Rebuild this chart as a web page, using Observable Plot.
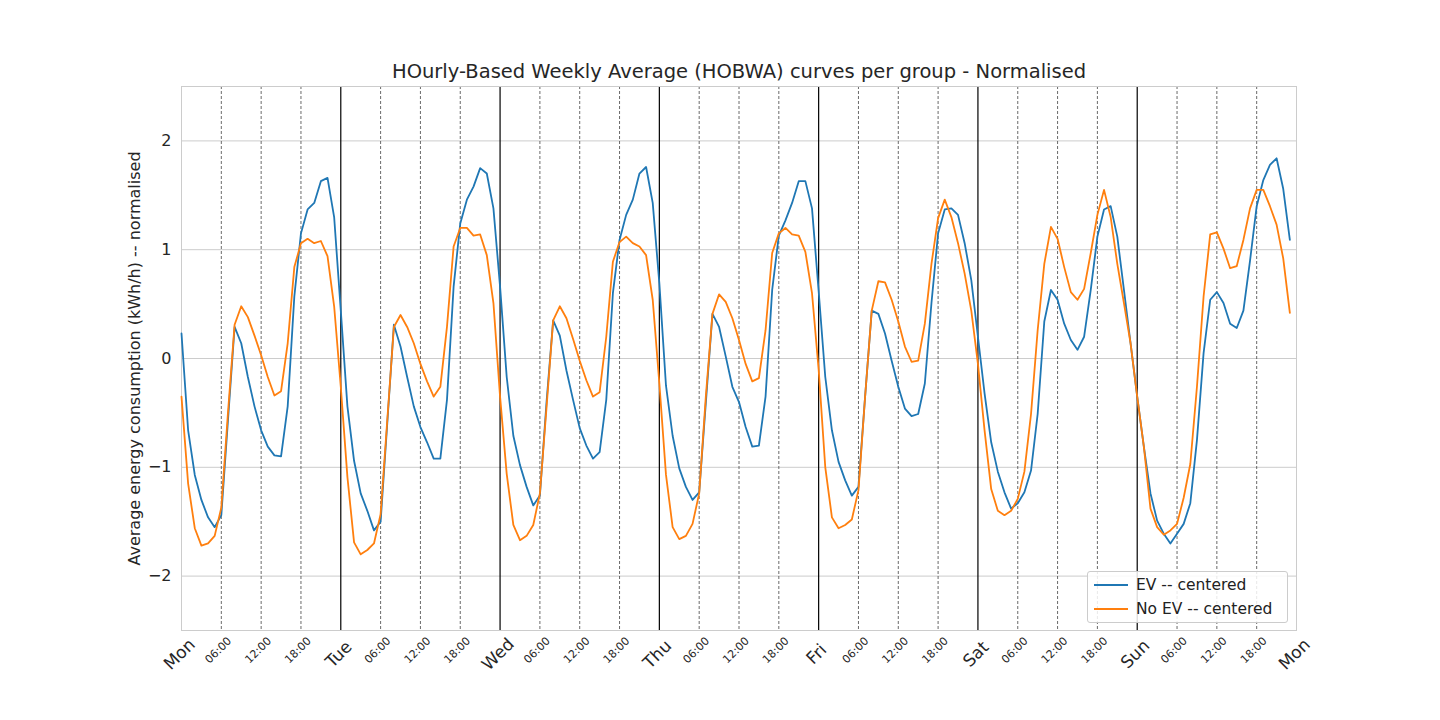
<!DOCTYPE html>
<html><head><meta charset="utf-8">
<script src="https://cdn.jsdelivr.net/npm/d3@7"></script>
<script src="https://cdn.jsdelivr.net/npm/@observablehq/plot@0.6"></script>
<style>body{margin:0;background:#fff;font-family:"DejaVu Sans",sans-serif}#c{position:relative;width:1440px;height:720px}
#lg{position:absolute;left:1087px;top:571px;width:199px;height:50px;border:1px solid #ccc;border-radius:3px;background:rgba(255,255,255,0.85);font-size:15.5px;color:#222}
#lg div{display:flex;align-items:center;height:22px;margin-top:2px}
#lg span{display:inline-block;width:34px;height:2px;margin:0 8px 0 6px}</style>
</head><body><div id="c"><div id="lg"><div><span style="background:#1f77b4"></span>EV -- centered</div><div><span style="background:#ff7f0e"></span>No EV -- centered</div></div></div>
<script>
const dayLabels=["Mon","Tue","Wed","Thu","Fri","Sat","Sun","Mon"];
const hourLabels=["06:00","12:00","18:00"];
const ev=[0.23,-0.66,-1.07,-1.30,-1.46,-1.55,-1.44,-0.57,0.29,0.14,-0.17,-0.44,-0.66,-0.81,-0.89,-0.90,-0.44,0.57,1.15,1.37,1.43,1.63,1.66,1.30,
0.44,-0.44,-0.94,-1.24,-1.40,-1.58,-1.50,-0.6,0.31,0.11,-0.17,-0.44,-0.63,-0.77,-0.92,-0.92,-0.38,0.66,1.24,1.46,1.58,1.75,1.70,1.38,
0.66,-0.17,-0.71,-0.98,-1.18,-1.35,-1.26,-0.4,0.35,0.21,-0.11,-0.38,-0.64,-0.80,-0.92,-0.86,-0.38,0.60,1.09,1.32,1.46,1.70,1.76,1.43,
0.69,-0.25,-0.71,-1.01,-1.18,-1.30,-1.23,-0.41,0.41,0.29,0.02,-0.26,-0.40,-0.63,-0.81,-0.80,-0.35,0.63,1.13,1.27,1.43,1.63,1.63,1.38,
0.62,-0.17,-0.66,-0.95,-1.12,-1.26,-1.18,-0.35,0.44,0.41,0.23,-0.02,-0.26,-0.46,-0.53,-0.51,-0.23,0.51,1.15,1.37,1.38,1.32,1.06,0.72,
0.20,-0.32,-0.77,-1.04,-1.23,-1.38,-1.33,-1.23,-1.03,-0.51,0.34,0.63,0.54,0.32,0.17,0.08,0.20,0.63,1.12,1.37,1.40,1.12,0.63,0.14,
-0.35,-0.81,-1.24,-1.49,-1.61,-1.70,-1.61,-1.52,-1.33,-0.75,0.05,0.54,0.61,0.51,0.32,0.28,0.44,0.90,1.40,1.64,1.78,1.84,1.56,1.09];
const noev=[-0.35,-1.15,-1.56,-1.72,-1.70,-1.63,-1.37,-0.5,0.31,0.48,0.38,0.21,0.03,-0.17,-0.34,-0.30,0.14,0.84,1.06,1.10,1.06,1.08,0.94,0.48,
-0.26,-1.09,-1.69,-1.80,-1.76,-1.70,-1.43,-0.57,0.29,0.40,0.29,0.14,-0.05,-0.21,-0.35,-0.26,0.29,1.03,1.20,1.20,1.13,1.14,0.95,0.51,
-0.35,-1.06,-1.53,-1.67,-1.63,-1.53,-1.24,-0.45,0.35,0.48,0.37,0.18,-0.02,-0.20,-0.35,-0.31,0.20,0.89,1.07,1.12,1.06,1.03,0.95,0.54,
-0.23,-1.07,-1.55,-1.66,-1.63,-1.52,-1.24,-0.35,0.41,0.59,0.52,0.37,0.17,-0.05,-0.21,-0.18,0.26,0.97,1.15,1.20,1.14,1.13,0.98,0.60,
-0.10,-1.00,-1.46,-1.56,-1.53,-1.48,-1.21,-0.35,0.44,0.71,0.70,0.54,0.34,0.11,-0.03,-0.02,0.32,0.87,1.29,1.46,1.30,1.06,0.78,0.44,
-0.05,-0.66,-1.20,-1.40,-1.44,-1.40,-1.29,-1.04,-0.51,0.26,0.87,1.21,1.10,0.84,0.61,0.54,0.64,0.97,1.32,1.55,1.30,0.87,0.51,0.14,
-0.35,-0.81,-1.38,-1.55,-1.62,-1.58,-1.52,-1.28,-0.97,-0.26,0.57,1.14,1.16,1.01,0.83,0.85,1.09,1.38,1.55,1.55,1.40,1.23,0.92,0.42];
const rows=[];
ev.forEach((v,i)=>rows.push({h:i,v,g:"EV -- centered"}));
noev.forEach((v,i)=>rows.push({h:i,v,g:"No EV -- centered"}));
const dayTicks=d3.range(0,169,24);
const innerDays=d3.range(24,168,24);
const hourTicks=d3.range(0,168,6).filter(h=>h%24!==0);
const chart=Plot.plot({
  width:1440,height:720,marginLeft:181,marginRight:144,marginTop:86,marginBottom:90,
  style:{fontFamily:"DejaVu Sans",color:"#262626",background:"white"},
  x:{domain:[0,168]},
  y:{domain:[-2.5,2.5]},
  color:{domain:["EV -- centered","No EV -- centered"],range:["#1f77b4","#ff7f0e"]},
  marks:[
    Plot.gridY([-2,-1,0,1,2],{stroke:"#cccccc",strokeOpacity:1,strokeWidth:1}),
    Plot.ruleX(hourTicks,{stroke:"#444",strokeWidth:0.8,strokeDasharray:"3,2"}),
    Plot.ruleX(innerDays,{stroke:"#000",strokeWidth:1.2}),
    Plot.frame({stroke:"#cccccc"}),
    Plot.lineY(rows,{x:"h",y:"v",z:"g",stroke:"g",strokeWidth:1.8}),
    Plot.axisY({ticks:[-2,-1,0,1,2],tickSize:0,tickPadding:10,fontSize:16,tickFormat:d=>d<0?"\u2212"+(-d):String(d),label:null}),
    Plot.text(["Average energy consumption (kWh/h) -- normalised"],{frameAnchor:"left",dx:-47,rotate:-90,fontSize:16,textAnchor:"middle"}),
    Plot.axisX({ticks:dayTicks,tickSize:0,tickRotate:-45,textAnchor:"middle",dy:12,dx:-2,fontSize:17,tickFormat:d=>dayLabels[d/24],label:null}),
    Plot.axisX({ticks:hourTicks,tickSize:0,tickRotate:-45,textAnchor:"middle",dy:8,dx:-3,fontSize:11,tickFormat:d=>hourLabels[(d%24)/6-1],label:null}),
    Plot.text(["HOurly-Based Weekly Average (HOBWA) curves per group - Normalised"],{frameAnchor:"top",dy:-22,fontSize:19.5})
  ]
});
document.getElementById("c").prepend(chart);
</script></body></html>
